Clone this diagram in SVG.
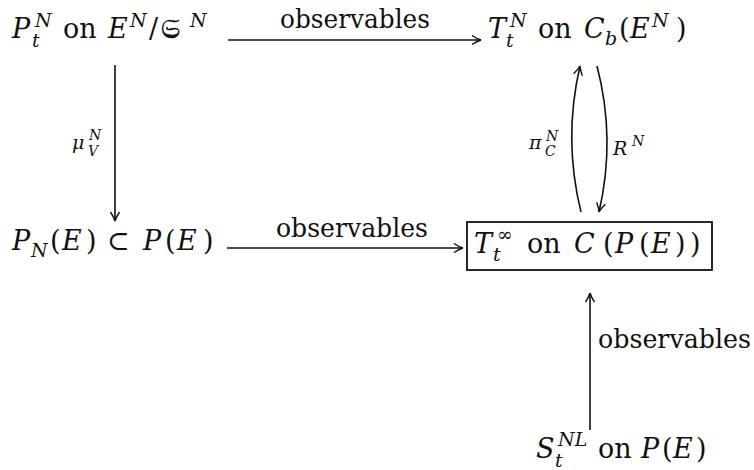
<svg xmlns="http://www.w3.org/2000/svg" width="754" height="470" viewBox="0 0 754 470">
<defs>
<style>
text{font-family:"DejaVu Serif","Liberation Serif",serif;fill:#111;}
.m{font-size:27px;}
.lb{font-size:26px;}
.i{font-style:italic;}
.s{font-size:19px;}
.ss{font-size:14px;}
.fr{stroke:#111;stroke-width:0.7;}
.edge{fill:none;stroke:#111;stroke-width:1.6;}
.box{fill:none;stroke:#111;stroke-width:1.8;}
</style>
<marker id="ah" viewBox="-11 -6 13 12" markerWidth="13" markerHeight="12" refX="0" refY="0" orient="auto" markerUnits="userSpaceOnUse">
<path d="M-9,-4.5 Q-4,-1.2 0,0 M-9,4.5 Q-4,1.2 0,0" fill="none" stroke="#111" stroke-width="1.4"/>
</marker>
</defs>
<rect width="754" height="470" fill="#fff"/>

<g id="connectors">
<line class="edge" x1="228" y1="40" x2="481" y2="40" marker-end="url(#ah)"/>
<line class="edge" x1="115" y1="65" x2="115" y2="221" marker-end="url(#ah)"/>
<line class="edge" x1="227" y1="248" x2="463" y2="248" marker-end="url(#ah)"/>
<path class="edge" d="M581,212 Q563,139 580,66" marker-end="url(#ah)"/>
<path class="edge" d="M597,66 Q616,139 599,212" marker-end="url(#ah)"/>
<line class="edge" x1="590" y1="430" x2="590" y2="293" marker-end="url(#ah)"/>
<text class="lb" x="280" y="28" textLength="150" lengthAdjust="spacingAndGlyphs">observables</text>
<text class="lb" x="276" y="237" textLength="152" lengthAdjust="spacingAndGlyphs">observables</text>
<text class="lb" x="598" y="348" textLength="153" lengthAdjust="spacingAndGlyphs">observables</text>
<text class="s i" x="72" y="149">μ</text><text class="ss i" x="89" y="140">N</text><text class="ss i" x="88" y="156">V</text>
<text class="s i" x="529" y="149">π</text><text class="ss i" x="546" y="141">N</text><text class="ss i" x="545" y="156">C</text>
<text class="s i" x="613" y="155">R</text><text class="ss i" x="632" y="146">N</text>
</g>

<g id="node-top-left">
<text class="m i" x="12" y="38">P</text>
<text class="s i" x="35" y="27">N</text>
<text class="s i" x="32" y="47">t</text>
<text class="m" x="63" y="38">on</text>
<text class="m i" x="108" y="38">E</text>
<text class="s i" x="130" y="27">N</text>
<text class="m" x="149" y="38">/</text>
<text class="m fr" x="161" y="38">𝔖</text>
<text class="s i" x="190" y="27">N</text>
</g>

<g id="node-top-right">
<text class="m i" x="488" y="38">T</text>
<text class="s i" x="510" y="27">N</text>
<text class="s i" x="506" y="47">t</text>
<text class="m" x="538" y="38">on</text>
<text class="m i" x="584" y="38">C</text>
<text class="s i" x="605" y="45">b</text>
<text class="m" x="619" y="38">(</text>
<text class="m i" x="630" y="38">E</text>
<text class="s i" x="652" y="27">N</text>
<text class="m" x="676" y="38">)</text>
</g>

<g id="node-mid-left">
<text class="m i" x="12" y="250">P</text>
<text class="s i" x="31" y="257">N</text>
<text class="m" x="50" y="250">(</text>
<text class="m i" x="62" y="250">E</text>
<text class="m" x="86" y="250">)</text>
<text class="m" x="107" y="250">⊂</text>
<text class="m i" x="143" y="250">P</text>
<text class="m" x="165" y="250">(</text>
<text class="m i" x="177" y="250">E</text>
<text class="m" x="203" y="250">)</text>
</g>

<g id="node-mid-right">
<rect class="box" x="467" y="222" width="245" height="48"/>
<text class="m i" x="474" y="253">T</text>
<text class="s" x="497" y="241">∞</text>
<text class="s i" x="493" y="261">t</text>
<text class="m" x="527" y="253">on</text>
<text class="m i" x="574" y="253">C</text>
<text class="m" x="603" y="253">(</text>
<text class="m i" x="615" y="253">P</text>
<text class="m" x="639" y="253">(</text>
<text class="m i" x="651" y="253">E</text>
<text class="m" x="675" y="253">)</text>
<text class="m" x="690" y="253">)</text>
</g>

<g id="node-bottom">
<text class="m i" x="536" y="458">S</text>
<text class="s i" x="558" y="446">NL</text>
<text class="s i" x="555" y="467">t</text>
<text class="m" x="598" y="458">on</text>
<text class="m i" x="641" y="458">P</text>
<text class="m" x="662" y="458">(</text>
<text class="m i" x="673" y="458">E</text>
<text class="m" x="696" y="458">)</text>
</g>
</svg>
